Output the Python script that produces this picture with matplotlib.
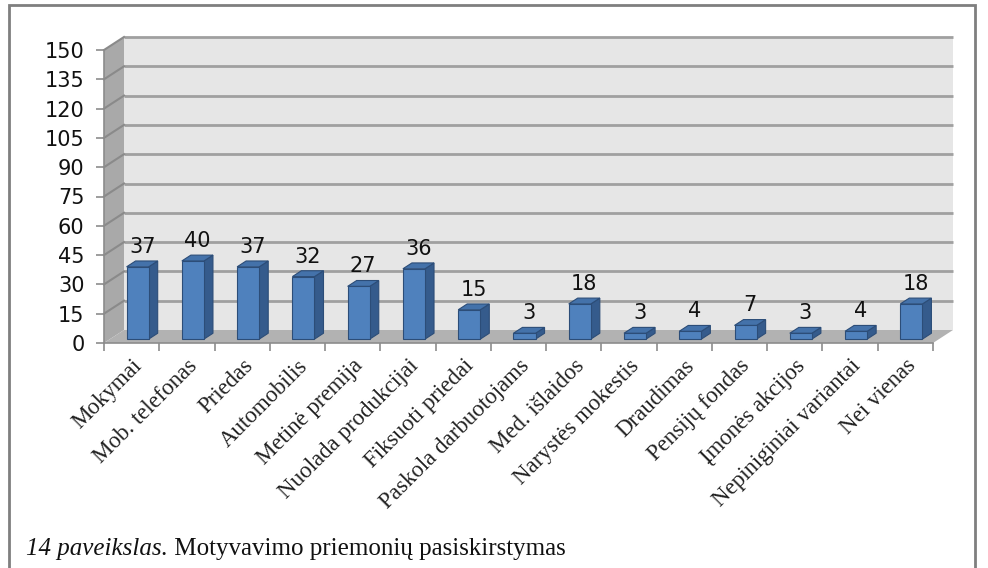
import matplotlib

matplotlib.use("Agg")
import matplotlib.pyplot as plt
from matplotlib.patches import Polygon, Rectangle

# =============================================================================
# 데이터
# =============================================================================
categories = [
    "Mokymai", "Mob. telefonas", "Priedas", "Automobilis", "Metinė premija",
    "Nuolada produkcijai", "Fiksuoti priedai", "Paskola darbuotojams",
    "Med. išlaidos", "Narystės mokestis", "Draudimas", "Pensijų fondas",
    "Įmonės akcijos", "Nepiniginiai variantai", "Nei vienas",
]
values = [37, 40, 37, 32, 27, 36, 15, 3, 18, 3, 4, 7, 3, 4, 18]
yticks = list(range(0, 151, 15))
caption_italic = "14 paveikslas."
caption_text = " Motyvavimo priemonių pasiskirstymas"

# =============================================================================
# 그림 / 축 배치 (픽셀 기준)
# =============================================================================
W, H = 988, 568
fig = plt.figure(figsize=(W / 100, H / 100), dpi=100)
fig.patch.set_facecolor("white")

x0_px, x1_px = 104, 933
y0_px, y1_px = 343, 50
ax = fig.add_axes([x0_px / W, 1 - y0_px / H, (x1_px - x0_px) / W, (y0_px - y1_px) / H])
n = len(categories)
ymax = yticks[-1]
ax.set_xlim(0, n)
ax.set_ylim(0, ymax)
for s in ax.spines.values():
    s.set_visible(False)
ax.patch.set_alpha(0)

# 3D 깊이 오프셋 (데이터 단위)
DX = 20 / (x1_px - x0_px) * n
DY = 13 / (y0_px - y1_px) * ymax

# 뒷벽
ax.add_patch(Polygon([(DX, DY), (n + DX, DY), (n + DX, ymax + DY), (DX, ymax + DY)],
                     closed=True, facecolor="#E6E6E6", edgecolor="none",
                     clip_on=False, zorder=0))
# 왼쪽 벽
ax.add_patch(Polygon([(0, 0), (DX, DY), (DX, ymax + DY), (0, ymax)],
                     closed=True, facecolor="#A9A9A9", edgecolor="none",
                     clip_on=False, zorder=0.5))
# 바닥
ax.add_patch(Polygon([(0, 0), (n, 0), (n + DX, DY), (DX, DY)],
                     closed=True, facecolor="#B2B2B2", edgecolor="none",
                     clip_on=False, zorder=0.5))

# 격자선 (뒷벽 + 왼쪽 벽)
for v in yticks[1:]:
    ax.plot([DX, n + DX], [v + DY, v + DY], color="#A0A0A0", lw=2.0,
            clip_on=False, zorder=1, solid_capstyle="butt")
    ax.plot([0, DX], [v, v + DY], color="#8A8A8A", lw=1.5,
            clip_on=False, zorder=1)

# 축선
ax.plot([0, 0], [0, ymax], color="#8C8C8C", lw=1.2, clip_on=False, zorder=2)
ax.plot([0, n], [0, 0], color="#8C8C8C", lw=1.2, clip_on=False, zorder=2)

# 막대 (앞면, 옆면, 윗면)
w = 0.4
d0, d1 = 0.3, 0.75
for i, v in enumerate(values):
    xa = i + 0.5 - w / 2
    xb = xa + w
    front = [(xa + d0 * DX, d0 * DY), (xb + d0 * DX, d0 * DY),
             (xb + d0 * DX, v + d0 * DY), (xa + d0 * DX, v + d0 * DY)]
    side = [(xb + d0 * DX, d0 * DY), (xb + d1 * DX, d1 * DY),
            (xb + d1 * DX, v + d1 * DY), (xb + d0 * DX, v + d0 * DY)]
    top = [(xa + d0 * DX, v + d0 * DY), (xb + d0 * DX, v + d0 * DY),
           (xb + d1 * DX, v + d1 * DY), (xa + d1 * DX, v + d1 * DY)]
    ax.add_patch(Polygon(side, closed=True, facecolor="#355B8C",
                         edgecolor="#2C4D78", lw=0.8, zorder=3, clip_on=False))
    ax.add_patch(Polygon(top, closed=True, facecolor="#4472AA",
                         edgecolor="#2C4D78", lw=0.8, zorder=3, clip_on=False))
    ax.add_patch(Polygon(front, closed=True, facecolor="#4F81BD",
                         edgecolor="#2C4D78", lw=0.8, zorder=3, clip_on=False))
    ax.annotate(str(v), xy=(i + 0.5 + (d0 + d1) / 2 * DX, v + d1 * DY),
                xytext=(0, 3), textcoords="offset points",
                ha="center", va="bottom", fontsize=15,
                family="DejaVu Sans", color="#111111", zorder=4)

# 눈금
ax.set_yticks(yticks)
ax.set_yticklabels([str(t) for t in yticks], fontsize=15, family="DejaVu Sans",
                   color="#111111")
ax.tick_params(axis="y", direction="out", length=6, width=1.2, color="#8C8C8C", pad=8)
ax.set_xticks(range(n + 1))
ax.set_xticklabels([])
ax.tick_params(axis="x", which="major", direction="out", length=6, width=1.2,
               color="#8C8C8C")
ax.set_xticks([i + 0.5 for i in range(n)], minor=True)
ax.set_xticklabels(categories, minor=True, rotation=45, ha="right",
                   rotation_mode="anchor", fontsize=16.5, family="Liberation Serif",
                   color="#222222")
ax.tick_params(axis="x", which="minor", length=0, pad=9)

# 바깥 테두리
fig.add_artist(Rectangle((9 / W, -0.05), (975 - 9) / W, 1.05 - 5 / H,
                         transform=fig.transFigure, fill=False,
                         edgecolor="#7F7F7F", lw=2))

# 캡션
t1 = fig.text(26 / W, 1 - 555 / H, caption_italic, fontsize=18,
              family="Liberation Serif", style="italic", color="#111111",
              va="baseline")
ax.annotate(caption_text, xy=(1, 0), xycoords=t1, fontsize=18,
            family="Liberation Serif", color="#111111", va="bottom",
            annotation_clip=False)

fig.savefig("out.png", dpi=100, facecolor="white")
